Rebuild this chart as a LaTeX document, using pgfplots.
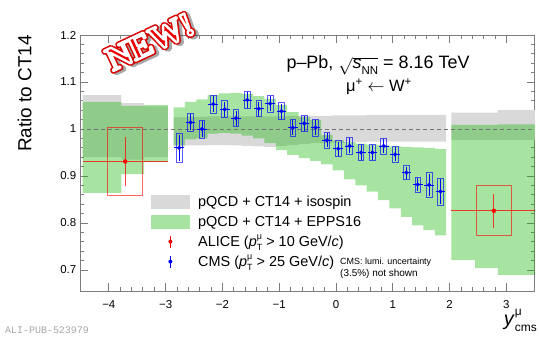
\documentclass[border=0pt]{standalone}
\usepackage{fontspec}
\setmainfont{Liberation Sans}
\newfontfamily\monofont{Liberation Mono}
\newfontfamily\stampfont{Liberation Serif}
\usepackage{pgfplots}
\usepackage{pgfplotstable}
\usepgfplotslibrary{fillbetween}
\pgfplotsset{compat=1.18}

\definecolor{bandgray}{RGB}{217,217,217}
\definecolor{bandgreen}{RGB}{20,182,0}
\definecolor{axisgray}{RGB}{125,125,125}

% open boxes whose half-height is the mark size
\pgfdeclareplotmark{cmsbox}{\pgfpathrectanglecorners{\pgfpoint{-2.84bp}{-\pgfplotmarksize}}{\pgfpoint{2.84bp}{\pgfplotmarksize}}\pgfusepathqstroke}
\pgfdeclareplotmark{alicebox}{\pgfpathrectanglecorners{\pgfpoint{-17.3bp}{-\pgfplotmarksize}}{\pgfpoint{17.3bp}{\pgfplotmarksize}}\pgfusepathqstroke}

% theory bands: left bin edges (last row repeats last bin at right edge)
\pgfplotstableread{
x     glo   ghi   elo   ehi
-4.46 0.940 1.072 0.864 1.058
-3.78 0.935 1.055 0.904 1.049
-3.38 0.940 1.048 0.930 1.051
-2.96 0.940 1.048 0.930 1.051
}\thback

\pgfplotstableread{
x     glo   ghi   elo   ehi
-2.86 0.963 1.025 0.965 1.046
-2.66 0.965 1.026 0.978 1.058
-2.46 0.965 1.026 0.980 1.063
-2.26 0.966 1.027 0.990 1.072
-2.06 0.966 1.027 0.992 1.076
-1.86 0.965 1.027 0.990 1.077
-1.66 0.964 1.027 0.986 1.075
-1.46 0.963 1.027 0.980 1.070
-1.26 0.962 1.027 0.970 1.064
-1.06 0.964 1.027 0.955 1.051
-0.86 0.966 1.028 0.945 1.036
-0.66 0.968 1.028 0.938 1.026
-0.46 0.970 1.028 0.932 1.019
-0.26 0.970 1.028 0.925 0.987
-0.06 0.971 1.029 0.912 0.976
0.14  0.972 1.029 0.893 0.972
0.34  0.972 1.029 0.880 0.969
0.54  0.973 1.030 0.867 0.967
0.74  0.973 1.030 0.849 0.965
0.94  0.973 1.030 0.831 0.963
1.14  0.973 1.030 0.813 0.962
1.34  0.973 1.030 0.795 0.961
1.54  0.973 1.030 0.785 0.960
1.74  0.973 1.030 0.774 0.958
1.94  0.973 1.030 0.774 0.958
}\thcms

\pgfplotstableread{
x     glo   ghi   elo   ehi
2.03  0.977 1.035 0.721 1.009
2.45  0.977 1.035 0.704 1.009
2.85  0.977 1.040 0.689 1.010
3.53  0.977 1.040 0.689 1.010
}\thfwd

\pgfplotstableread{
x     y     stat  sys
-2.76 0.960 0.028 0.031
-2.56 1.014 0.017 0.019
-2.36 1.000 0.017 0.019
-2.16 1.053 0.017 0.019
-1.96 1.042 0.016 0.018
-1.76 1.023 0.016 0.018
-1.56 1.062 0.017 0.019
-1.36 1.043 0.015 0.017
-1.16 1.054 0.016 0.018
-0.96 1.038 0.016 0.018
-0.76 1.003 0.016 0.018
-0.56 1.012 0.016 0.018
-0.36 1.003 0.016 0.018
-0.16 0.976 0.015 0.017
0.04  0.958 0.015 0.017
0.24  0.964 0.016 0.018
0.44  0.950 0.015 0.017
0.64  0.950 0.015 0.017
0.84  0.964 0.015 0.017
1.04  0.946 0.015 0.017
1.24  0.907 0.013 0.015
1.44  0.882 0.014 0.016
1.64  0.881 0.024 0.027
1.84  0.867 0.026 0.029
}\cmsdata

\pgfplotstableread{
x     y     stat  sys   xerr
-3.71 0.931 0.052 0.073 0.75
2.78  0.826 0.036 0.053 0.75
}\alicedata

\newcommand{\ptmu}{\textit{p}\rlap{\raisebox{0.5em}{\fontsize{9}{9}\selectfont μ}}\raisebox{-0.3em}{\fontsize{9}{9}\selectfont T}}
\newcommand{\stamp}{\fontsize{34}{34}\selectfont\stampfont\bfseries NEW!}
% text drawn filled and stroked with a given line width (bp) and stroke colour (rgb)
\newcommand{\strokedstamp}[2]{\special{pdf:literal direct 2 Tr #1 w 1 j #2 RG}\stamp}

\begin{document}
\begin{tikzpicture}
\path (0,0) rectangle (539bp,337bp);
\begin{axis}[
  at={(80.4bp,45.8bp)}, anchor=south west,
  scale only axis, width=454.4bp, height=256.2bp,
  xmin=-4.5, xmax=3.5, ymin=0.655, ymax=1.2,
  axis line style={axisgray, line width=0.9bp},
  tick style={axisgray, line width=0.8bp},
  tick align=inside, tick pos=both,
  xticklabel pos=lower, yticklabel pos=left,
  major tick length=8bp, minor tick length=4bp,
  xtick={-4,-3,-2,-1,0,1,2,3},
  xticklabels={−4,−3,−2,−1,0,1,2,3},
  minor x tick num=4,
  ytick={0.7,0.8,0.9,1.0,1.1,1.2},
  yticklabels={0.7,0.8,0.9,1,1.1,1.2},
  minor y tick num=4,
  tick label style={font=\fontsize{11.5}{12}\selectfont},
  yticklabel style={inner sep=0pt, xshift=-4bp},
  xticklabel style={inner sep=0pt, yshift=-9bp},
  ylabel={Ratio to CT14},
  ylabel style={at={(axis description cs:-0.1226,1)}, anchor=east, inner sep=0pt, font=\fontsize{19}{20}\selectfont},
  legend style={draw=none, fill=none, at={(0.1547,0.378)}, anchor=north west, inner sep=0pt, row sep=6bp,
    nodes={inner sep=0pt, text height=10bp, text depth=0bp, font=\fontsize{14.5}{16}\selectfont},
    /tikz/every odd column/.append style={column sep=8.3bp}},
  legend cell align=left,
]
\addlegendimage{legend image code/.code={\fill[bandgray, draw=none] (0bp,-7bp) rectangle (39bp,7bp);}}
\addlegendentry{pQCD + CT14 + isospin}
\addlegendimage{legend image code/.code={\fill[bandgreen, fill opacity=0.37, draw=none] (0bp,-7bp) rectangle (39bp,7bp);}}
\addlegendentry{pQCD + CT14 + EPPS16}
\addlegendimage{legend image code/.code={\path[draw=none, fill=none] (0bp,-7bp) rectangle (39bp,7bp); \draw[red, line width=0.8bp] (19.5bp,-6bp) -- (19.5bp,6bp); \fill[red, draw=none] (19.5bp,0bp) circle (2bp);}}
\addlegendentry{ALICE (\ptmu{} > 10 GeV/\textit{c})}
\addlegendimage{legend image code/.code={\path[draw=none, fill=none] (0bp,-7bp) rectangle (39bp,7bp); \draw[blue, line width=0.8bp] (19.5bp,-6bp) -- (19.5bp,6bp); \fill[blue, draw=none] (19.5bp,0bp) circle (2bp);}}
\addlegendentry{CMS (\ptmu{} > 25 GeV/\textit{c})}

% isospin bands
\addplot[forget plot, const plot, draw=none, name path=bgu] table[x=x,y=ghi]{\thback};
\addplot[forget plot, const plot, draw=none, name path=bgl] table[x=x,y=glo]{\thback};
\addplot[forget plot, fill=bandgray, draw=none] fill between[of=bgu and bgl];
\addplot[forget plot, const plot, draw=none, name path=cgu] table[x=x,y=ghi]{\thcms};
\addplot[forget plot, const plot, draw=none, name path=cgl] table[x=x,y=glo]{\thcms};
\addplot[forget plot, fill=bandgray, draw=none] fill between[of=cgu and cgl];
\addplot[forget plot, const plot, draw=none, name path=fgu] table[x=x,y=ghi]{\thfwd};
\addplot[forget plot, const plot, draw=none, name path=fgl] table[x=x,y=glo]{\thfwd};
\addplot[forget plot, fill=bandgray, draw=none] fill between[of=fgu and fgl];
% EPPS16 bands
\addplot[forget plot, const plot, draw=none, name path=beu] table[x=x,y=ehi]{\thback};
\addplot[forget plot, const plot, draw=none, name path=bel] table[x=x,y=elo]{\thback};
\addplot[forget plot, fill=bandgreen, fill opacity=0.37, draw=none] fill between[of=beu and bel];
\addplot[forget plot, const plot, draw=none, name path=ceu] table[x=x,y=ehi]{\thcms};
\addplot[forget plot, const plot, draw=none, name path=cel] table[x=x,y=elo]{\thcms};
\addplot[forget plot, fill=bandgreen, fill opacity=0.37, draw=none] fill between[of=ceu and cel];
\addplot[forget plot, const plot, draw=none, name path=feu] table[x=x,y=ehi]{\thfwd};
\addplot[forget plot, const plot, draw=none, name path=fel] table[x=x,y=elo]{\thfwd};
\addplot[forget plot, fill=bandgreen, fill opacity=0.37, draw=none] fill between[of=feu and fel];

% reference line
\addplot[forget plot, black!55, line width=0.9bp, dash pattern=on 4bp off 3bp] coordinates {(-4.5,1) (3.5,1)};

% ALICE: systematic boxes, x range, statistical bars
\addplot[forget plot, only marks, mark=alicebox, scatter,
  scatter/use mapped color={draw=red, draw opacity=0.6, fill=none},
  mark options={line width=1bp},
  visualization depends on={471.85*\thisrow{sys} \as \perpointmarksize},
  scatter/@pre marker code/.append style={/tikz/mark size=\perpointmarksize}]
  table[x=x, y=y]{\alicedata};
\addplot[forget plot, only marks, mark=*, mark size=2bp, red,
  error bars/.cd, x dir=both, x explicit, y dir=both, y explicit, error mark=none,
  error bar style={red, draw opacity=0.75, line width=1bp}]
  table[x=x, y=y, x error=xerr, y error=stat]{\alicedata};

% CMS: systematic boxes, statistical bars
\addplot[forget plot, only marks, mark=cmsbox, scatter,
  scatter/use mapped color={draw=blue, draw opacity=0.65, fill=none},
  mark options={line width=0.8bp},
  visualization depends on={471.85*\thisrow{sys} \as \perpointmarksize},
  scatter/@pre marker code/.append style={/tikz/mark size=\perpointmarksize}]
  table[x=x, y=y]{\cmsdata};
\addplot[forget plot, only marks, mark=*, mark size=1.9bp, blue,
  error bars/.cd, x dir=both, x fixed=0.085, y dir=both, y explicit, error mark=none,
  error bar style={blue, line width=0.7bp}]
  table[x=x, y=y, y error=stat]{\cmsdata};
\end{axis}

% texts
\node[anchor=base] at (378bp,268bp) {\fontsize{18}{20}\selectfont p–Pb, $\sqrt{\mbox{\textit{s}\raisebox{-0.3em}{\fontsize{11.5}{11.5}\selectfont NN}}}$ = 8.16 TeV};
\node[anchor=base] at (379bp,245bp) {\fontsize{16.5}{20}\selectfont μ\textsuperscript{+} $\leftarrow$ W\textsuperscript{+}};
\node[anchor=base west, inner sep=0pt, align=left] at (340bp,60.3bp) {\fontsize{9}{11.7}\selectfont CMS: lumi. uncertainty\\(3.5\%) not shown};
\node[anchor=base east, inner sep=0pt] at (537bp,12bp) {\fontsize{20}{20}\selectfont\textit{y}\rlap{\raisebox{0.5em}{\fontsize{12}{12}\selectfont μ}}\raisebox{-0.35em}{\fontsize{12}{12}\selectfont cms}};
\node[anchor=base west, inner sep=0pt, text=black!35] at (5bp,4bp) {\fontsize{10}{10}\selectfont\monofont ALI-PUB-523979};

% stamp: shadow, red outline, red letters with white rim
\begin{scope}[shift={(150bp,295bp)}, rotate=25, transform shape, every node/.style={inner sep=0pt}]
  \node[text=black!75, opacity=0.45] at (2.2bp,-2.6bp) {\strokedstamp{5.5}{0.25 0.25 0.25}};
  \node[text=red!85!black] at (0,0) {\strokedstamp{5.5}{0.85 0 0}};
  \node[text=red!92!black] at (0,0) {\strokedstamp{2.4}{1 1 1}};
\end{scope}
\end{tikzpicture}
\end{document}
